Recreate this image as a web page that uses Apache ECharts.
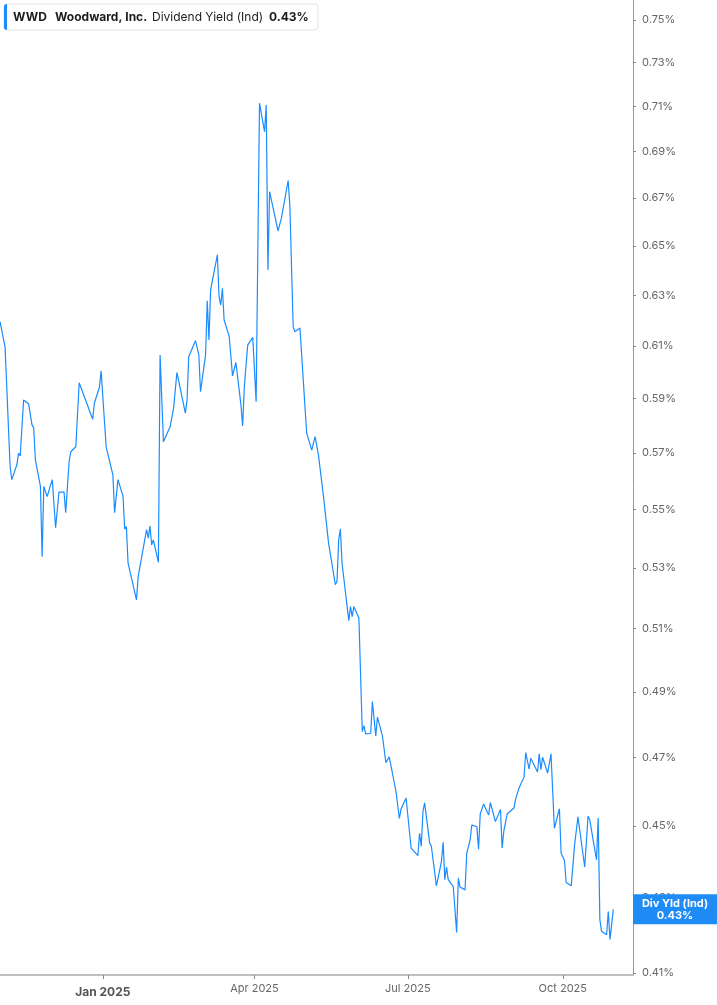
<!DOCTYPE html>
<html>
<head>
<meta charset="utf-8">
<script src="https://cdn.jsdelivr.net/npm/echarts@6/dist/echarts.min.js"></script>
<style>
  html, body { margin: 0; padding: 0; background: #fff; }
  #chart { width: 717px; height: 1005px; }
</style>
</head>
<body>
<div id="chart"></div>
<script>
var ticker = 'WWD';
var company = 'Woodward, Inc.';
var metric = 'Dividend Yield (Ind)';

// trading dates and dividend yield (%)
var dates = [
  '2024-11-01','2024-11-04','2024-11-07','2024-11-08','2024-11-11','2024-11-12','2024-11-13','2024-11-15',
  '2024-11-18','2024-11-20','2024-11-21','2024-11-22','2024-11-25','2024-11-26','2024-11-27','2024-11-29',
  '2024-12-02','2024-12-04','2024-12-06','2024-12-09','2024-12-10','2024-12-12','2024-12-13','2024-12-16',
  '2024-12-18','2024-12-26','2024-12-27','2024-12-30','2024-12-31','2025-01-03','2025-01-07','2025-01-08',
  '2025-01-10','2025-01-13','2025-01-14','2025-01-15','2025-01-16','2025-01-21','2025-01-22','2025-01-27',
  '2025-01-28','2025-01-29','2025-01-30','2025-01-31','2025-02-03','2025-02-04','2025-02-06','2025-02-10',
  '2025-02-11','2025-02-12','2025-02-13','2025-02-14','2025-02-19','2025-02-20','2025-02-21','2025-02-25',
  '2025-02-27','2025-02-28','2025-03-03','2025-03-04','2025-03-05','2025-03-06','2025-03-10','2025-03-11',
  '2025-03-12','2025-03-13','2025-03-14','2025-03-17','2025-03-19','2025-03-21','2025-03-24','2025-03-25',
  '2025-03-26','2025-03-27','2025-03-28','2025-03-31','2025-04-02','2025-04-04','2025-04-07','2025-04-08',
  '2025-04-09','2025-04-10','2025-04-15','2025-04-17','2025-04-21','2025-04-22','2025-04-24','2025-04-25',
  '2025-04-28','2025-05-02','2025-05-05','2025-05-07','2025-05-09','2025-05-12','2025-05-15','2025-05-19',
  '2025-05-20','2025-05-21','2025-05-22','2025-05-23','2025-05-27','2025-05-28','2025-05-29','2025-05-30',
  '2025-06-02','2025-06-04','2025-06-05','2025-06-06','2025-06-09','2025-06-10','2025-06-12','2025-06-13',
  '2025-06-16','2025-06-18','2025-06-20','2025-06-24','2025-06-26','2025-06-27','2025-06-30','2025-07-03',
  '2025-07-07','2025-07-08','2025-07-09','2025-07-10','2025-07-11','2025-07-14','2025-07-15','2025-07-18',
  '2025-07-21','2025-07-22','2025-07-23','2025-07-24','2025-07-25','2025-07-28','2025-07-30','2025-07-31',
  '2025-08-01','2025-08-04','2025-08-05','2025-08-07','2025-08-08','2025-08-11','2025-08-12','2025-08-13',
  '2025-08-15','2025-08-18','2025-08-19','2025-08-22','2025-08-25','2025-08-26','2025-08-27','2025-08-29',
  '2025-09-02','2025-09-03','2025-09-05','2025-09-08','2025-09-09','2025-09-11','2025-09-12','2025-09-16',
  '2025-09-17','2025-09-18','2025-09-19','2025-09-22','2025-09-24','2025-09-26','2025-09-29','2025-09-30',
  '2025-10-02','2025-10-03','2025-10-06','2025-10-08','2025-10-10','2025-10-14','2025-10-16','2025-10-17',
  '2025-10-21','2025-10-22','2025-10-23','2025-10-24','2025-10-27','2025-10-28','2025-10-29','2025-10-31'
];
var divYield = [
  0.6195,0.6097,0.5652,0.5605,0.5658,0.5699,0.5690,0.5895,
  0.5880,0.5803,0.5792,0.5676,0.5581,0.5338,0.5581,0.5545,
  0.5605,0.5437,0.5561,0.5561,0.5489,0.5669,0.5705,0.5723,
  0.5960,0.5824,0.5883,0.5943,0.6005,0.5723,0.5622,0.5489,
  0.5605,0.5547,0.5432,0.5441,0.5316,0.5194,0.5271,0.5430,
  0.5401,0.5443,0.5378,0.5395,0.5319,0.6066,0.5741,0.5797,
  0.5795,0.5864,0.5870,0.5999,0.5846,0.5895,0.6059,0.6121,
  0.6066,0.5926,0.6066,0.6278,0.6124,0.6321,0.6463,0.6294,
  0.6261,0.6328,0.6202,0.6139,0.5986,0.6037,0.5877,0.5799,
  0.5945,0.5952,0.6104,0.6134,0.5889,0.7115,0.6988,0.7107,
  0.6402,0.6727,0.6562,0.6615,0.6775,0.6671,0.6176,0.6156,
  0.6170,0.5773,0.5711,0.5760,0.5693,0.5545,0.5384,0.5244,
  0.5255,0.5395,0.5432,0.5316,0.5126,0.5172,0.5139,0.5172,
  0.5134,0.4778,0.4796,0.4771,0.4773,0.4870,0.4765,0.4822,
  0.4764,0.4685,0.4702,0.4600,0.4522,0.4549,0.4581,0.4438,
  0.4417,0.4480,0.4443,0.4542,0.4567,0.4452,0.4443,0.4333,
  0.4401,0.4454,0.4350,0.4385,0.4350,0.4331,0.4207,0.4354,
  0.4330,0.4322,0.4424,0.4461,0.4503,0.4499,0.4435,0.4535,
  0.4564,0.4532,0.4568,0.4513,0.4548,0.4438,0.4486,0.4535,
  0.4552,0.4578,0.4610,0.4642,0.4715,0.4666,0.4698,0.4657,
  0.4711,0.4664,0.4701,0.4654,0.4711,0.4494,0.4550,0.4424,
  0.4403,0.4342,0.4333,0.4447,0.4527,0.4385,0.4529,0.4518,
  0.4405,0.4523,0.4241,0.4210,0.4201,0.4263,0.4188,0.4269
];

var yTicks = [0.41,0.43,0.45,0.47,0.49,0.51,0.53,0.55,0.57,0.59,0.61,0.63,0.65,0.67,0.69,0.71,0.73,0.75];
var xTicks = ['2025-01-01','2025-04-01','2025-07-01','2025-10-01'];
var monthNames = ['Jan','Feb','Mar','Apr','May','Jun','Jul','Aug','Sep','Oct','Nov','Dec'];

function toTime(s) {
  var p = s.split('-');
  return +new Date(+p[0], +p[1] - 1, +p[2]);
}

// the y scale is logarithmic in the picture, so the series is plotted in ln space;
// x is a plain linear scale of timestamps
var lineData = dates.map(function (d, i) { return [toTime(d), Math.log(divYield[i])]; });
var yTickVals = yTicks.map(function (v) { return Math.log(v); });
var xTickVals = xTicks.map(toTime);
var lastVal = divYield[divYield.length - 1];
var xMax = +new Date(2025, 10, 11, 16);
var FONT = 'Inter, "Noto Sans", sans-serif';
var BLUE = '#1a8cff';

var myChart = echarts.init(document.getElementById('chart'));

myChart.setOption({
  animation: false,
  backgroundColor: '#fff',
  grid: {
    left: 0,
    right: 84,
    top: 0,
    bottom: 30,
    containLabel: false,
    outerBoundsMode: 'none'
  },
  xAxis: {
    type: 'value',
    min: +new Date(2024, 10, 1),
    max: xMax,
    scale: true,
    axisLine: { show: true, lineStyle: { color: '#ababab', width: 1.5 } },
    axisTick: { show: true, customValues: xTickVals, length: 4, lineStyle: { color: '#888' } },
    splitLine: { show: false },
    axisLabel: {
      customValues: xTickVals,
      margin: 8,
      fontFamily: FONT,
      fontSize: 11,
      color: '#666',
      formatter: function (v) {
        var d = new Date(v);
        var s = monthNames[d.getMonth()] + ' ' + d.getFullYear();
        return d.getMonth() === 0 ? '{yr|' + s + '}' : s;
      },
      rich: {
        yr: { fontFamily: FONT, fontSize: 12, fontWeight: 'bold', color: '#555', padding: [3, 0, 0, 0] }
      }
    }
  },
  yAxis: {
    type: 'value',
    position: 'right',
    min: Math.log(0.4095),
    max: Math.log(0.7596),
    axisLine: { show: true, lineStyle: { color: '#9a9a9a', width: 1 } },
    axisTick: { show: true, customValues: yTickVals, length: 3, lineStyle: { color: '#888' } },
    splitLine: { show: false },
    axisLabel: {
      customValues: yTickVals,
      margin: 9,
      fontFamily: FONT,
      fontSize: 11,
      color: '#666',
      formatter: function (v) { return Math.exp(v).toFixed(2) + '%'; }
    }
  },
  series: [{
    type: 'line',
    data: lineData,
    showSymbol: false,
    symbol: 'none',
    lineStyle: { color: BLUE, width: 1.2 },
    itemStyle: { color: BLUE }
  }],
  graphic: [
    { type: 'rect', id: 'hdrBox', shape: { x: 4, y: 4, width: 314, height: 26, r: 3 },
      style: { fill: '#fff', stroke: '#e4e4e4', lineWidth: 1 }, z: 100 },
    { type: 'rect', id: 'hdrBar', shape: { x: 4, y: 4, width: 3, height: 26, r: [3, 0, 0, 3] },
      style: { fill: BLUE }, z: 101 },
    { type: 'text', id: 'hdrT1', x: 13, y: 17, z: 101,
      style: { text: ticker, font: 'bold 12px ' + FONT, fill: '#1c1c1c', verticalAlign: 'middle' } },
    { type: 'text', id: 'hdrT2', x: 55, y: 17, z: 101,
      style: { text: company, font: 'bold 12px ' + FONT, fill: '#1c1c1c', verticalAlign: 'middle' } },
    { type: 'text', id: 'hdrT3', x: 152, y: 17, z: 101,
      style: { text: metric, font: '12px ' + FONT, fill: '#1c1c1c', verticalAlign: 'middle' } },
    { type: 'text', id: 'hdrT4', x: 269, y: 17, z: 101,
      style: { text: lastVal.toFixed(2) + '%', font: 'bold 12px ' + FONT, fill: '#1c1c1c', verticalAlign: 'middle' } }
  ]
});

// end-value badge on the y axis, placed through the chart's own scale
var endPt = myChart.convertToPixel({ gridIndex: 0 }, lineData[lineData.length - 1]);
var axisX = myChart.convertToPixel({ gridIndex: 0 }, [xMax, Math.log(0.5)])[0];
myChart.setOption({
  graphic: [
    { type: 'rect', id: 'endBox', shape: { x: axisX, y: endPt[1] - 15, width: 717 - axisX, height: 30 },
      style: { fill: '#1f8bf5' }, z: 200 },
    { type: 'text', id: 'endT1', x: axisX + (717 - axisX) / 2, y: endPt[1] - 6, z: 201,
      style: { text: 'Div Yld (Ind)', font: 'bold 11px ' + FONT, fill: '#fff', align: 'center', verticalAlign: 'middle' } },
    { type: 'text', id: 'endT2', x: axisX + (717 - axisX) / 2, y: endPt[1] + 6, z: 201,
      style: { text: lastVal.toFixed(2) + '%', font: 'bold 11px ' + FONT, fill: '#fff', align: 'center', verticalAlign: 'middle' } }
  ]
});
</script>
</body>
</html>
